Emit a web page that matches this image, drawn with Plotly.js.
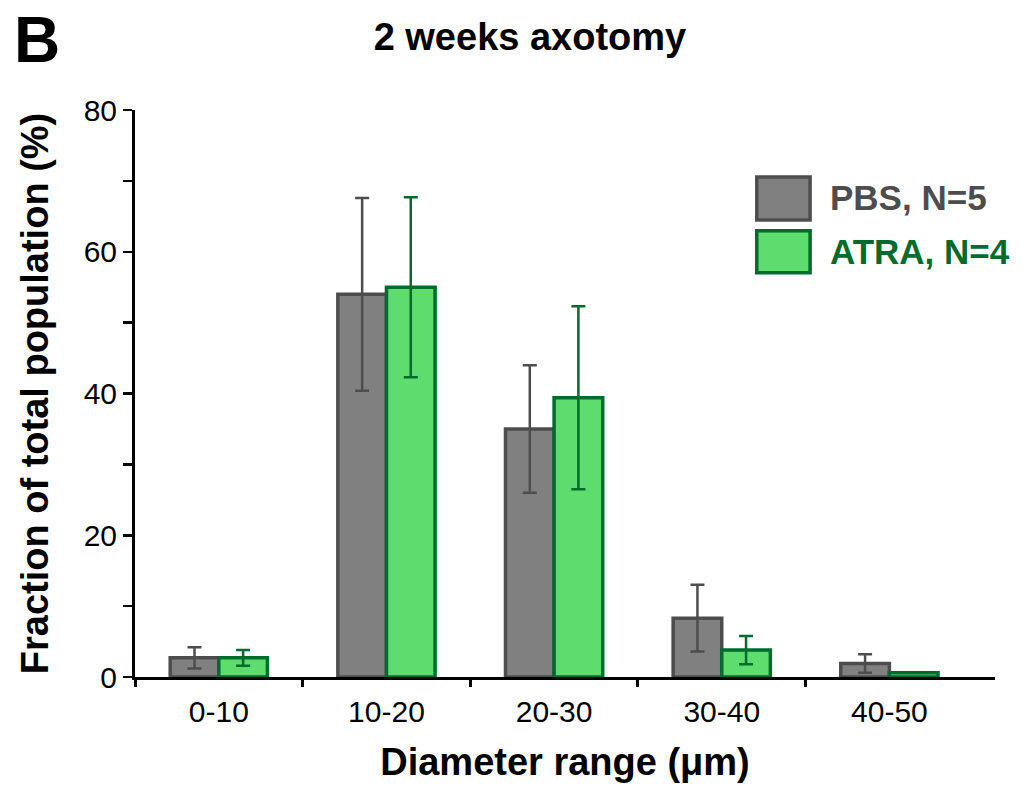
<!DOCTYPE html>
<html>
<head>
<meta charset="utf-8">
<script src="https://cdn.plot.ly/plotly-3.0.1.min.js"></script>
<style>html,body{margin:0;padding:0;background:#fff;} #chart{width:1027px;height:789px;}</style>
</head>
<body>
<div id="chart"></div>
<script>
const categories = ["0-10", "10-20", "20-30", "30-40", "40-50"];
const pbsValues = [2.7, 54.0, 35.0, 8.3, 1.9];
const pbsErrors = [1.5, 13.6, 9.0, 4.7, 1.3];
const atraValues = [2.7, 55.0, 39.4, 3.8, 0.6];
const atraErrors = [1.1, 12.7, 12.9, 2.0, 0];
const yTickVals = [0, 10, 20, 30, 40, 50, 60, 70, 80];
const yTickText = ["0", "", "20", "", "40", "", "60", "", "80"];
const boundaryTicks = [-0.5, 0.5, 1.5, 2.5, 3.5];

const xPos = categories.map((c, i) => i);
const FONT = "Liberation Sans, Arial, sans-serif";
const GREY_LINE = "#4d4d4d";
const GREEN_LINE = "#006b2c";

const traces = [
  {
    type: "bar", name: "PBS, N=5", x: xPos, y: pbsValues,
    marker: {color: "#808080", line: {color: GREY_LINE, width: 3.5}},
    error_y: {type: "data", array: pbsErrors, visible: true, color: GREY_LINE, thickness: 2.5, width: 7},
    showlegend: false
  },
  {
    type: "bar", name: "ATRA, N=4", x: xPos, y: atraValues,
    marker: {color: "#5edc6e", line: {color: GREEN_LINE, width: 3.5}},
    error_y: {type: "data", array: atraErrors, visible: true, color: GREEN_LINE, thickness: 2.5, width: 7},
    showlegend: false
  },
  {type: "scatter", x: [0], y: [0], xaxis: "x2", mode: "markers", marker: {opacity: 0}, hoverinfo: "skip", showlegend: false}
];

const layout = {
  width: 1027, height: 789,
  margin: {l: 135, r: 32, t: 110, b: 112},
  paper_bgcolor: "#fff", plot_bgcolor: "#fff",
  barmode: "group", bargap: 0.42, bargroupgap: 0,
  font: {family: FONT, color: "#000"},
  title: {text: "<b>2 weeks axotomy</b>", x: 0.516, xanchor: "center", y: 0.953, yanchor: "middle",
          font: {family: FONT, size: 38, color: "#000"}},
  xaxis: {
    range: [-0.5, 4.63], tickvals: xPos, ticktext: categories, ticks: "",
    showline: true, linecolor: "#000", linewidth: 3, showgrid: false, zeroline: false,
    tickfont: {size: 30, color: "#000"}, ticklabelstandoff: 6,
    title: {text: "<b>Diameter range (μm)</b>", font: {size: 38, color: "#000"}, standoff: 22}
  },
  xaxis2: {
    overlaying: "x", range: [-0.5, 4.63], tickvals: boundaryTicks, showticklabels: false,
    ticks: "outside", ticklen: 9, tickwidth: 3, tickcolor: "#000",
    showline: false, showgrid: false, zeroline: false, side: "bottom"
  },
  yaxis: {
    range: [0, 80], tickvals: yTickVals, ticktext: yTickText, ticks: "outside", ticklen: 9, tickwidth: 2.5,
    tickcolor: "#000", showline: true, linecolor: "#000", linewidth: 3, showgrid: false, zeroline: false,
    tickfont: {size: 30, color: "#000"},
    title: {text: "<b>Fraction of total population (%)</b>", font: {size: 38, color: "#000"}, standoff: 24}
  },
  shapes: [
    {type: "rect", xref: "paper", yref: "paper", x0: 0.723, x1: 0.785, y0: 0.806, y1: 0.882,
     fillcolor: "#808080", line: {color: GREY_LINE, width: 3.5}},
    {type: "rect", xref: "paper", yref: "paper", x0: 0.723, x1: 0.785, y0: 0.713, y1: 0.787,
     fillcolor: "#5edc6e", line: {color: GREEN_LINE, width: 3.5}}
  ],
  annotations: [
    {text: "<b>B</b>", xref: "paper", yref: "paper", x: -0.143, y: 1.123, xanchor: "left", yanchor: "middle",
     showarrow: false, font: {family: FONT, size: 64, color: "#000"}},
    {text: "<b>PBS, N=5</b>", xref: "paper", yref: "paper", x: 0.806, y: 0.845, xanchor: "left", yanchor: "middle",
     showarrow: false, font: {family: FONT, size: 35, color: GREY_LINE}},
    {text: "<b>ATRA, N=4</b>", xref: "paper", yref: "paper", x: 0.806, y: 0.75, xanchor: "left", yanchor: "middle",
     showarrow: false, font: {family: FONT, size: 35, color: GREEN_LINE}}
  ]
};

Plotly.newPlot("chart", traces, layout, {displayModeBar: false, staticPlot: true});
</script>
</body>
</html>
